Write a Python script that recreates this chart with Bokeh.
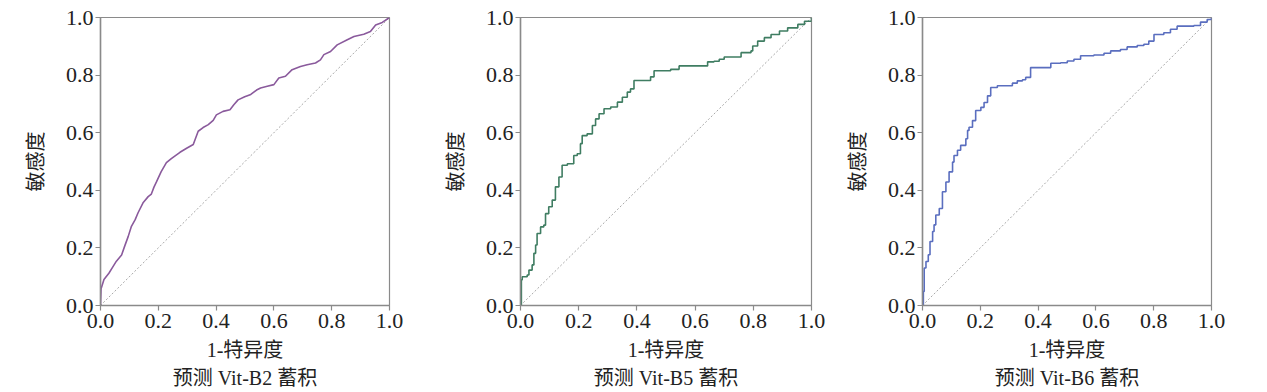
from bokeh.plotting import figure
from bokeh.layouts import row
from bokeh.models import Range1d, FixedTicker, Title
from bokeh.embed import file_html
from bokeh.resources import INLINE

# ---------------- data ----------------
tick_values = [0.0, 0.2, 0.4, 0.6, 0.8, 1.0]
tick_labels = ["0.0", "0.2", "0.4", "0.6", "0.8", "1.0"]

x_label = "1-特异度"
y_label = "敏感度"
panel_titles = ["预测 Vit-B2 蓄积", "预测 Vit-B5 蓄积", "预测 Vit-B6 蓄积"]

ref_x = [0.0, 1.0]
ref_y = [0.0, 1.0]

b2_fpr = [0.0, 0.002, 0.012, 0.029, 0.040, 0.055, 0.073, 0.084, 0.096, 0.107, 0.120,
          0.130, 0.148, 0.165, 0.176, 0.185, 0.194, 0.210, 0.228, 0.245, 0.257, 0.275,
          0.298, 0.321, 0.338, 0.355, 0.373, 0.390, 0.401, 0.424, 0.448, 0.462, 0.476,
          0.499, 0.520, 0.540, 0.554, 0.577, 0.600, 0.617, 0.640, 0.663, 0.692, 0.715,
          0.744, 0.761, 0.773, 0.796, 0.819, 0.854, 0.877, 0.911, 0.934, 0.952, 0.975, 1.0]
b2_tpr = [0.0, 0.058, 0.090, 0.112, 0.130, 0.154, 0.175, 0.207, 0.240, 0.275, 0.298,
          0.322, 0.358, 0.378, 0.387, 0.411, 0.430, 0.465, 0.496, 0.510, 0.519, 0.532,
          0.546, 0.559, 0.605, 0.618, 0.628, 0.643, 0.662, 0.674, 0.680, 0.698, 0.714,
          0.725, 0.733, 0.748, 0.755, 0.761, 0.767, 0.790, 0.796, 0.819, 0.830, 0.836,
          0.842, 0.853, 0.871, 0.882, 0.905, 0.923, 0.934, 0.942, 0.951, 0.974, 0.983, 1.0]

b5_fpr = [0.0, 0.003, 0.006, 0.023, 0.029, 0.040, 0.046, 0.052, 0.057, 0.069, 0.080,
          0.086, 0.097, 0.109, 0.120, 0.132, 0.143, 0.161, 0.177, 0.183, 0.195, 0.206,
          0.212, 0.229, 0.241, 0.247, 0.258, 0.270, 0.287, 0.310, 0.333, 0.350, 0.367,
          0.378, 0.390, 0.407, 0.436, 0.447, 0.459, 0.482, 0.516, 0.545, 0.596, 0.637,
          0.643, 0.665, 0.683, 0.700, 0.752, 0.758, 0.792, 0.798, 0.815, 0.838, 0.861,
          0.890, 0.918, 0.953, 0.976, 1.0]
b5_tpr = [0.0, 0.089, 0.100, 0.106, 0.123, 0.141, 0.181, 0.210, 0.250, 0.273, 0.279,
          0.319, 0.343, 0.366, 0.412, 0.446, 0.487, 0.492, 0.492, 0.521, 0.527, 0.562,
          0.590, 0.596, 0.596, 0.625, 0.648, 0.666, 0.683, 0.689, 0.706, 0.723, 0.741,
          0.752, 0.781, 0.781, 0.781, 0.794, 0.815, 0.815, 0.820, 0.832, 0.832, 0.832,
          0.846, 0.848, 0.855, 0.863, 0.863, 0.878, 0.884, 0.901, 0.918, 0.930, 0.941,
          0.953, 0.964, 0.976, 0.987, 1.0]

b6_fpr = [0.0, 0.003, 0.006, 0.012, 0.020, 0.026, 0.035, 0.040, 0.046, 0.058, 0.069,
          0.081, 0.092, 0.104, 0.109, 0.121, 0.132, 0.150, 0.156, 0.161, 0.173, 0.184,
          0.202, 0.213, 0.225, 0.236, 0.259, 0.294, 0.311, 0.328, 0.346, 0.357, 0.374,
          0.409, 0.441, 0.444, 0.478, 0.501, 0.524, 0.547, 0.593, 0.628, 0.651, 0.685,
          0.708, 0.743, 0.766, 0.783, 0.801, 0.835, 0.858, 0.881, 0.939, 0.962, 0.985, 1.0]
b6_tpr = [0.0, 0.049, 0.130, 0.153, 0.176, 0.222, 0.257, 0.280, 0.314, 0.337, 0.395,
          0.429, 0.464, 0.498, 0.521, 0.539, 0.556, 0.579, 0.608, 0.619, 0.642, 0.677,
          0.688, 0.705, 0.728, 0.757, 0.763, 0.763, 0.772, 0.780, 0.784, 0.792, 0.826,
          0.826, 0.826, 0.841, 0.843, 0.849, 0.855, 0.867, 0.870, 0.876, 0.884, 0.889,
          0.898, 0.903, 0.907, 0.918, 0.941, 0.947, 0.959, 0.970, 0.972, 0.984, 0.993, 1.0]

series = [(b2_fpr, b2_tpr), (b5_fpr, b5_tpr), (b6_fpr, b6_tpr)]
colors = ["#8a5a9c", "#3f7d62", "#5a6ebf"]
use_step = [False, True, True]

# ---------------- layout ----------------
fig_widths = [420, 420, 419]
border_left = [100, 100, 82]
border_right = [31, 29, 48]
border_top = [16, 17, 15]
frame_h = 290
fig_height = 390

AX = "#8a8a8a"
TXT = "#222222"
FONT = "Liberation Serif, Noto Sans CJK SC"

figs = []
for i in range(3):
    p = figure(width=fig_widths[i], height=fig_height,
               x_range=Range1d(0, 1), y_range=Range1d(0, 1),
               output_backend="svg", toolbar_location=None,
               min_border_left=border_left[i], min_border_right=border_right[i],
               min_border_top=border_top[i],
               min_border_bottom=fig_height - border_top[i] - frame_h)
    p.grid.visible = False
    p.outline_line_color = AX
    p.outline_line_width = 1.2
    p.background_fill_color = "white"
    p.border_fill_color = "white"

    for ax in (p.xaxis[0], p.yaxis[0]):
        ax.ticker = FixedTicker(ticks=tick_values)
        ax.major_label_overrides = {v: s for v, s in zip(tick_values, tick_labels)}
        ax.axis_line_color = AX
        ax.axis_line_width = 1.5
        ax.major_tick_line_color = AX
        ax.major_tick_line_width = 1.2
        ax.major_tick_in = 0
        ax.major_tick_out = 5
        ax.minor_tick_line_color = None
        ax.major_label_text_font = FONT
        ax.major_label_text_font_size = "22px"
        ax.major_label_text_color = TXT
        ax.axis_label_text_font = FONT
        ax.axis_label_text_font_size = "20px"
        ax.axis_label_text_font_style = "normal"
        ax.axis_label_text_color = TXT

    p.xaxis.axis_label = x_label
    p.yaxis.axis_label = y_label
    p.xaxis.major_label_standoff = 3
    p.yaxis.major_label_standoff = 2
    p.xaxis.axis_label_standoff = 8
    p.yaxis.axis_label_standoff = 16

    t = Title(text=panel_titles[i], align="center", text_font=FONT,
              text_font_size="20px", text_font_style="normal", text_color=TXT,
              standoff=2)
    p.add_layout(t, "below")

    p.line(ref_x, ref_y, line_color="#a8a8a8", line_width=1, line_dash="2 2")
    fx, fy = series[i]
    if use_step[i]:
        p.step(fx, fy, mode="after", line_color=colors[i], line_width=1.6)
    else:
        p.line(fx, fy, line_color=colors[i], line_width=1.6)
    figs.append(p)

layout = row(*figs)
open("out.html", "w").write(file_html(layout, INLINE))
